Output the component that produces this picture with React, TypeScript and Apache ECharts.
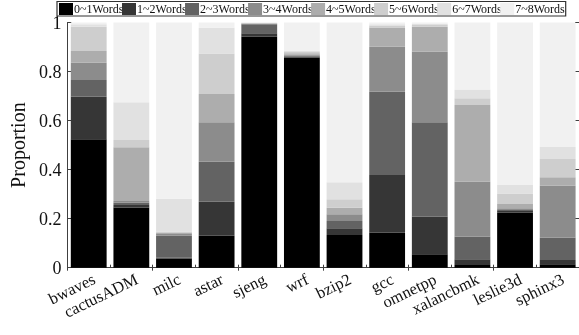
import React, { useEffect, useRef } from "react";
import * as echarts from "echarts";

const categories = ["bwaves", "cactusADM", "milc", "astar", "sjeng", "wrf", "bzip2", "gcc", "omnetpp", "xalancbmk", "leslie3d", "sphinx3"];
const seriesNames = ["0~1Words", "1~2Words", "2~3Words", "3~4Words", "4~5Words", "5~6Words", "6~7Words", "7~8Words"];
const w01 = [0.524, 0.246, 0.038, 0.130, 0.942, 0.857, 0.133, 0.144, 0.055, 0.011, 0.224, 0.014];
const w12 = [0.173, 0.010, 0.003, 0.139, 0.014, 0.004, 0.028, 0.234, 0.153, 0.023, 0.007, 0.017];
const w23 = [0.068, 0.009, 0.090, 0.163, 0.037, 0.003, 0.029, 0.340, 0.385, 0.092, 0.004, 0.091];
const w34 = [0.071, 0.007, 0.006, 0.161, 0.002, 0.005, 0.028, 0.183, 0.288, 0.225, 0.007, 0.212];
const w45 = [0.048, 0.219, 0.007, 0.115, 0.002, 0.006, 0.027, 0.079, 0.102, 0.313, 0.018, 0.035];
const w56 = [0.099, 0.030, 0.004, 0.166, 0.001, 0.005, 0.034, 0.008, 0.007, 0.027, 0.043, 0.074];
const w67 = [0.010, 0.154, 0.133, 0.105, 0.001, 0.004, 0.069, 0.005, 0.005, 0.036, 0.034, 0.049];
const w78 = [0.007, 0.325, 0.719, 0.021, 0.001, 0.116, 0.652, 0.007, 0.005, 0.273, 0.663, 0.508];
const seriesData = [w01, w12, w23, w34, w45, w56, w67, w78];
const colors = ["#000000", "#363636", "#636363", "#8c8c8c", "#adadad", "#cecece", "#e1e1e1", "#f1f1f1"];

const FONT = '"Liberation Serif", "Times New Roman", serif';

export default function App() {
  const ref = useRef<HTMLDivElement>(null);
  useEffect(() => {
    if (!ref.current) return;
    const chart = echarts.init(ref.current, null, { renderer: "svg" });
    const axisColor = "#404040";
    chart.setOption({
      animation: false,
      color: colors,
      textStyle: { fontFamily: FONT },
      legend: {
        left: 57,
        top: 1.5,
        width: 600,
        itemWidth: 14,
        itemHeight: 12,
        itemGap: -1.5,
        padding: [1.5, 1, 1, 2],
        borderColor: "#333",
        borderWidth: 1.2,
        icon: "rect",
        textStyle: {
          fontFamily: FONT,
          fontSize: 12,
          color: "#111",
          padding: [0, 0, 0, -4],
          lineHeight: 12,
        },
        data: seriesNames,
      },
      grid: { left: 57.6, right: -3, top: 22.5, bottom: 67.3, containLabel: false },
      xAxis: [
        {
          type: "category",
          data: categories,
          position: "bottom",
          axisLine: { lineStyle: { color: axisColor, width: 1 } },
          axisTick: { show: true, inside: true, length: 3, lineStyle: { color: axisColor } },
          axisLabel: { rotate: 26, fontSize: 16.5, color: "#111", fontFamily: FONT, margin: 13, interval: 0, padding: [0, -6, 0, 0] },
        },
        {
          type: "category",
          data: categories,
          position: "top",
          axisLine: { lineStyle: { color: axisColor, width: 1 } },
          axisTick: { show: true, inside: true, length: 3, lineStyle: { color: axisColor } },
          axisLabel: { show: false },
        },
      ],
      yAxis: [
        {
          type: "value",
          min: 0,
          max: 1,
          interval: 0.2,
          position: "left",
          name: "Proportion",
          nameLocation: "middle",
          nameGap: 32,
          nameTextStyle: { fontSize: 20, color: "#111", fontFamily: FONT },
          axisLine: { show: true, lineStyle: { color: axisColor, width: 1 } },
          axisTick: { show: true, inside: true, length: 4, lineStyle: { color: axisColor } },
          axisLabel: { fontSize: 18, color: "#111", fontFamily: FONT, margin: 6 },
          splitLine: { show: false },
        },
        {
          type: "value",
          min: 0,
          max: 1,
          interval: 0.2,
          position: "right",
          axisLine: { show: true, lineStyle: { color: axisColor, width: 1 } },
          axisTick: { show: true, inside: true, length: 4, lineStyle: { color: axisColor } },
          axisLabel: { show: false },
          splitLine: { show: false },
        },
      ],
      series: seriesNames.map((name, i) => ({
        name,
        type: "bar",
        stack: "total",
        data: seriesData[i],
        barCategoryGap: "16%",
        itemStyle: { color: colors[i] },
      })),
    });
    return () => chart.dispose();
  }, []);
  return <div ref={ref} style={{ position: "fixed", left: 0, top: 0, width: 579, height: 335 }} />;
}
